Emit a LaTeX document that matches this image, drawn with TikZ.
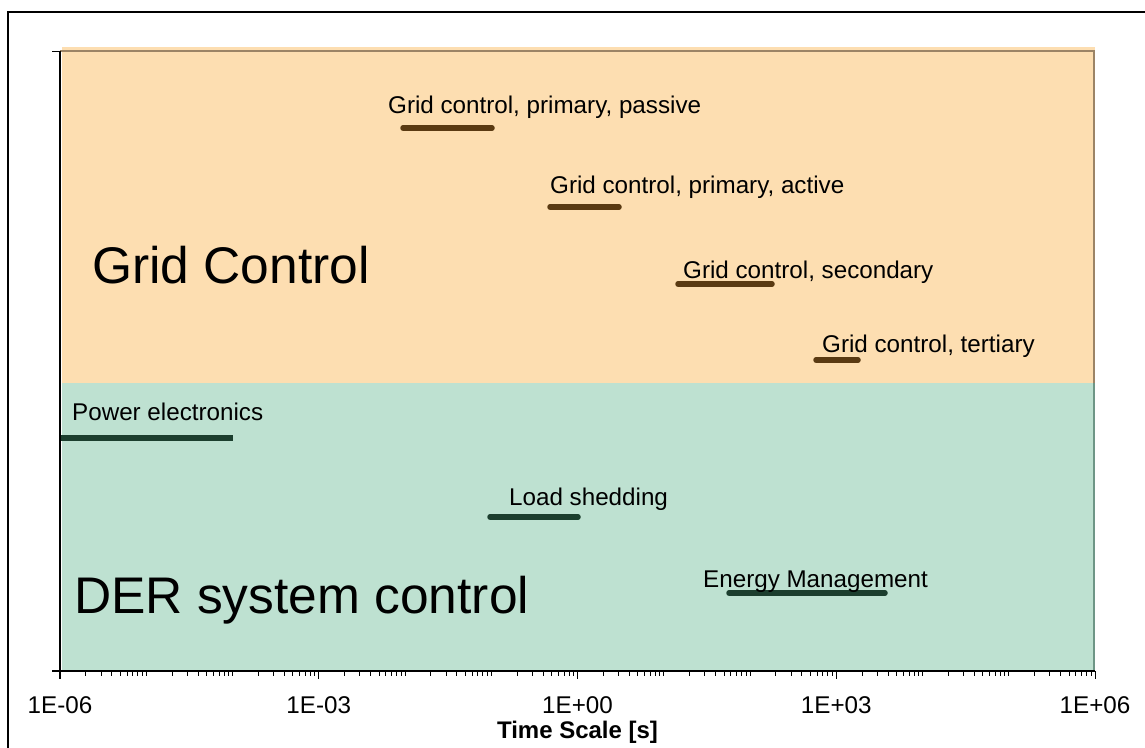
\documentclass[tikz,border=0pt]{standalone}
\usepackage{fontspec}
\setmainfont{Liberation Sans}
\definecolor{orangefill}{HTML}{FDDEB1}
\definecolor{greenfill}{HTML}{BEE1D1}
\definecolor{orangeedge}{HTML}{9C8466}
\definecolor{greenedge}{HTML}{6E9686}
\definecolor{gridbar}{HTML}{5A3A12}
\definecolor{derbar}{HTML}{1C3E2E}
\begin{document}
\begin{tikzpicture}[x=1pt,y=-1pt,
  lbl/.style={anchor=base west,inner sep=0pt,font=\fontsize{24.2}{25}\selectfont},
  big/.style={anchor=base west,inner sep=0pt,font=\fontsize{51.5}{52}\selectfont},
  ticklbl/.style={anchor=base,inner sep=0pt,font=\fontsize{24.2}{25}\selectfont},
  axtitle/.style={anchor=base,inner sep=0pt,font=\fontsize{24}{25}\selectfont\bfseries},
  gbar/.style={line width=5.5pt,line cap=round,draw=gridbar},
  dbar/.style={line width=5.5pt,line cap=round,draw=derbar},
  axisline/.style={draw=black,line width=1.2pt},
  tickline/.style={draw=black,line width=1pt}]
\useasboundingbox (0,0) rectangle (1145,747);
% outer frame
\draw[line width=1.5pt] (8,760) -- (8,12) -- (1160,12);
% bands
\fill[orangefill] (62,47) rectangle (1095,383);
\fill[greenfill] (62,383) rectangle (1095,671);
\draw[orangeedge,line width=1.5pt] (60,51) -- (1094,51) -- (1094,383);
\draw[greenedge,line width=1.5pt] (1094,383) -- (1094,671);
% axes
\draw[axisline] (60,51) -- (60,679);
\draw[axisline] (52,671) -- (1095,671);
\draw[tickline] (52,51) -- (60,51);
% minor ticks
\foreach \d in {0,...,11} {
  \foreach \k in {2,...,10} {
    \pgfmathsetmacro\xx{60+86.25*(\d+log10(\k))}
    \draw[tickline] (\xx,671) -- (\xx,675.5);
  }
}
\foreach \d in {0,3,6,9,12} {
  \pgfmathsetmacro\xx{60+86.25*\d}
  \draw[tickline] (\xx,671) -- (\xx,679);
}
% tick labels
\node[ticklbl] (t0) at (60,713) {1E-06};
\node[ticklbl] (t1) at (318.75,713) {1E-03};
\node[ticklbl] (t2) at (577.5,713) {1E+00};
\node[ticklbl] (t3) at (836.25,713) {1E+03};
\node[ticklbl] (t4) at (1095,713) {1E+06};
\node[axtitle] (xt) at (577.5,738) {Time Scale [s]};
% big band labels
\node[big] (gc) at (92,283) {Grid Control};
\node[big] (der) at (74,613) {DER system control};
% grid control bars
\coordinate (pa1) at (403,128); \coordinate (pa2) at (492,128);
\coordinate (ac1) at (550,207); \coordinate (ac2) at (619,207);
\coordinate (se1) at (678,284); \coordinate (se2) at (772,284);
\coordinate (te1) at (816,360); \coordinate (te2) at (858,360);
\draw[gbar] (pa1) -- (pa2);
\draw[gbar] (ac1) -- (ac2);
\draw[gbar] (se1) -- (se2);
\draw[gbar] (te1) -- (te2);
\node[lbl] (pal) at (388,113) {Grid control, primary, passive};
\node[lbl] (acl) at (550,193) {Grid control, primary, active};
\node[lbl] (sel) at (683,278) {Grid control, secondary};
\node[lbl] (tel) at (822,352) {Grid control, tertiary};
% DER bars
\coordinate (pe1) at (61,438); \coordinate (pe2) at (233,438);
\coordinate (ls1) at (490,517); \coordinate (ls2) at (578,517);
\coordinate (em1) at (729,593); \coordinate (em2) at (885,593);
\draw[dbar,line cap=butt] (pe1) -- (pe2);
\draw[dbar] (ls1) -- (ls2);
\draw[dbar] (em1) -- (em2);
\node[lbl] (pel) at (72,420) {Power electronics};
\node[lbl] (lsl) at (509,505) {Load shedding};
\node[lbl] (eml) at (703,587) {Energy Management};
\end{tikzpicture}
\end{document}
